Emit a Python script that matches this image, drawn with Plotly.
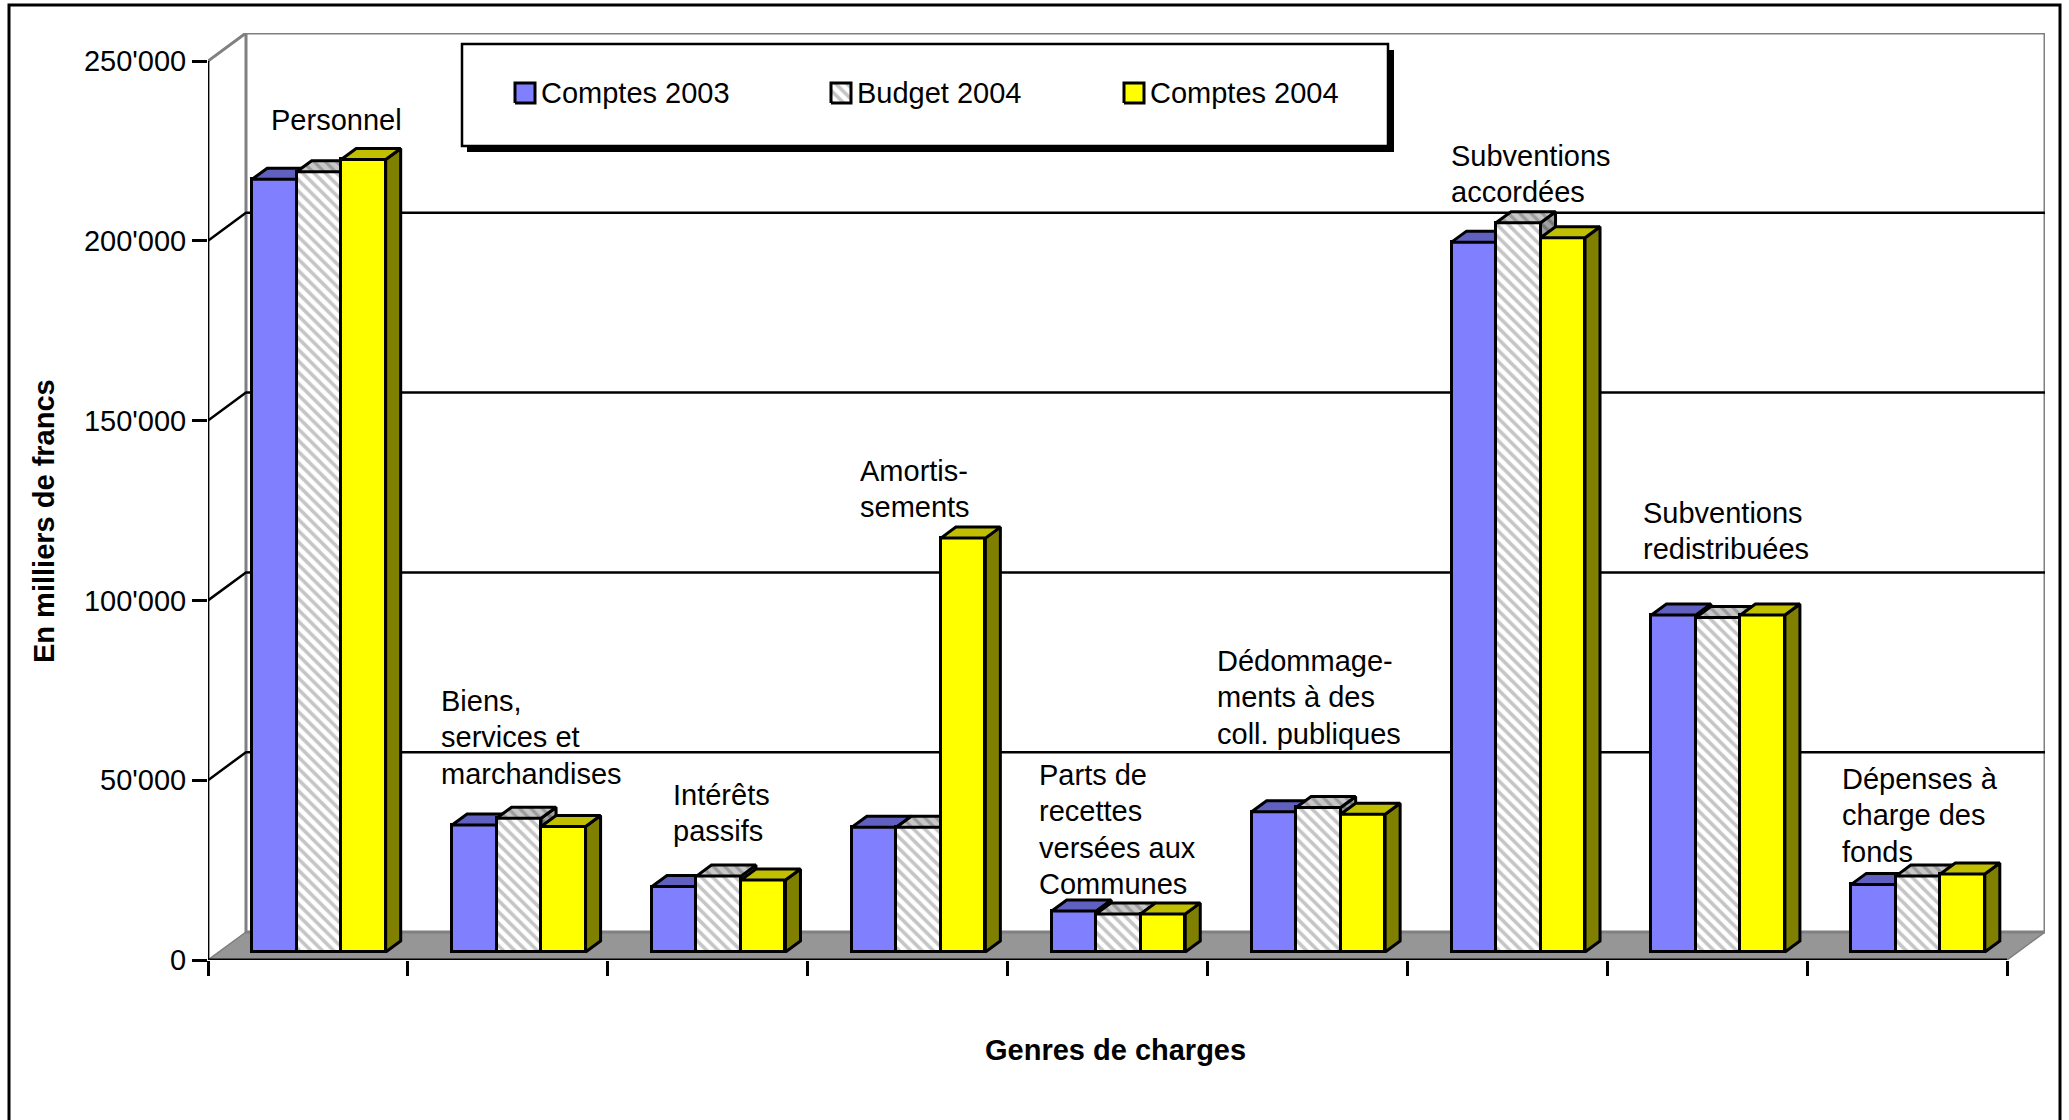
import plotly.graph_objects as go

# ---- data (thousands of francs) ----
SERIES = ["Comptes 2003", "Budget 2004", "Comptes 2004"]
comptes_2003 = [214900, 35300, 18200, 34700, 11400, 39000, 197400, 93700, 18800]
budget_2004 = [217000, 37200, 21100, 34700, 10600, 40200, 202800, 93000, 21100]
comptes_2004 = [220400, 34900, 20000, 115100, 10600, 38300, 198600, 93700, 21700]
category_lines = [
    ["Personnel"],
    ["Biens,", "services et", "marchandises"],
    ["Intérêts", "passifs"],
    ["Amortis-", "sements"],
    ["Parts de", "recettes", "versées aux", "Communes"],
    ["Dédommage-", "ments à des", "coll. publiques"],
    ["Subventions", "accordées"],
    ["Subventions", "redistribuées"],
    ["Dépenses à", "charge des", "fonds"],
]
y_tick_vals = [0, 50000, 100000, 150000, 200000, 250000]
y_tick_text = ["0", "50'000", "100'000", "150'000", "200'000", "250'000"]
y_title = "En milliers de francs"
x_title = "Genres de charges"

# ---- layout geometry ----
W, H = 2069, 1120
X0, X_BACK, Y0, Y_TOP = 208, 2045, 960, 33   # plot box, pixels
PX_X = 1799 / 9           # pixels per category
PX_Y = 899 / 250000       # pixels per franc-thousand
XMAX = (X_BACK - X0) / PX_X
YMAX = (Y0 - Y_TOP) / PX_Y
NCAT = len(comptes_2003)
WALL_DX, WALL_DY = 38 / PX_X, 28 / PX_Y
BAR_DX, BAR_DY = 15 / PX_X, 11 / PX_Y
BAR_W = 44.5 / PX_X
BAR_SHIFT = 11 / PX_X
BASE = 8 / PX_Y

def dx(px): return (px - X0) / PX_X
def dy(py): return (Y0 - py) / PX_Y
def pfx(px): return (px - X0) / (X_BACK - X0)
def pfy(py): return (Y0 - py) / (Y0 - Y_TOP)

FONT = "Liberation Sans"
FS = 29
BLACK = "#000000"
WALLC = "#808080"
EDGE = 3
HATCH = dict(shape="\\", fgcolor="#8c8c8c", bgcolor="#ffffff", size=8, solidity=0.45)

STYLES = [
    dict(front="#8080FF", top="#6060C0", side="#404080", pat=None, tp=None, sp=None),
    dict(front="#FFFFFF", top="#C0C0C0", side="#808080", pat=HATCH,
         tp=dict(shape="\\", fgcolor="#707070", bgcolor="#C8C8C8", size=8, solidity=0.4),
         sp=dict(shape="\\", fgcolor="#505050", bgcolor="#A0A0A0", size=8, solidity=0.4)),
    dict(front="#FFFF00", top="#C0C000", side="#808000", pat=None, tp=None, sp=None),
]
VALUES = [comptes_2003, budget_2004, comptes_2004]

fig = go.Figure()

def poly(xs, ys, fill, xa="x", ya="y", lc=BLACK, lw=EDGE, pattern=None, name=None):
    t = go.Scatter(x=xs, y=ys, mode="lines", fill="toself", fillcolor=fill,
                   line=dict(color=lc, width=lw), hoverinfo="skip", showlegend=False,
                   xaxis=xa, yaxis=ya, name=name, cliponaxis=False)
    if pattern:
        t.fillpattern = pattern
    fig.add_trace(t)

def line(xs, ys, color=BLACK, w=2.5):
    fig.add_trace(go.Scatter(x=xs, y=ys, mode="lines", line=dict(color=color, width=w),
                             hoverinfo="skip", showlegend=False, cliponaxis=False))

# floor
poly([0, NCAT, NCAT + WALL_DX, WALL_DX, 0], [0, 0, WALL_DY, WALL_DY, 0], "#969696", lc="#969696", lw=1)
# back wall
line([0, WALL_DX, WALL_DX, XMAX, XMAX, NCAT + WALL_DX, WALL_DX], [250000, YMAX, WALL_DY, WALL_DY, YMAX, YMAX, YMAX], WALLC, 3)
line([XMAX, NCAT], [WALL_DY, 0], WALLC, 1.5)
line([0, WALL_DX], [0, WALL_DY], WALLC, 1.5)
# gridlines on the side and back walls
for v in y_tick_vals[1:-1]:
    line([0, WALL_DX, XMAX], [v, v + WALL_DY, v + WALL_DY], BLACK, 2.5)
# axis lines
line([0, 0], [0, 250000], BLACK, 2.8)
line([0, NCAT], [0, 0], BLACK, 2.8)

# bars: each series has its own overlaid axes pair so the faces stack correctly
for s, (name, vals, st) in enumerate(zip(SERIES, VALUES, STYLES)):
    xa = f"x{s + 2}"
    ya = f"y{s + 2}"
    xs = [i + 0.5 + BAR_SHIFT + (s - 1) * BAR_W for i in range(NCAT)]
    marker = dict(color=st["front"], line=dict(color=BLACK, width=EDGE))
    if st["pat"]:
        marker["pattern"] = st["pat"]
    fig.add_trace(go.Bar(x=xs, y=vals, base=BASE, width=BAR_W, marker=marker, name=name,
                         showlegend=False, xaxis=xa, yaxis=ya))
    for xc, v in zip(xs, vals):
        l, r, t = xc - BAR_W / 2, xc + BAR_W / 2, BASE + v
        poly([r, r + BAR_DX, r + BAR_DX, r, r], [BASE, BASE + BAR_DY, t + BAR_DY, t, BASE],
             st["side"], xa, ya, pattern=st["sp"])
        poly([l, r, r + BAR_DX, l + BAR_DX, l], [t, t, t + BAR_DY, t + BAR_DY, t],
             st["top"], xa, ya, pattern=st["tp"])

# legend swatches
sw_x = [515, 831, 1124]
txt_x = [540, 856, 1149]
for s, st in enumerate(STYLES):
    x0, x1 = dx(sw_x[s]), dx(sw_x[s] + 20)
    y0, y1 = dy(103), dy(83)
    poly([x0, x1, x1, x0, x0], [y0, y0, y1, y1, y0], st["front"], "x4", "y4", pattern=st["pat"], name=SERIES[s])

annotations = []
for s, name in enumerate(SERIES):
    annotations.append(dict(x=pfx(txt_x[s]), y=pfy(93), xref="paper", yref="paper", text=name,
                            showarrow=False, xanchor="left", yanchor="middle", borderpad=0,
                            font=dict(family=FONT, size=FS, color=BLACK)))

# category labels, first-line position in pixels
label_left = [270, 440, 672, 859, 1038, 1216, 1450, 1642, 1841]
label_first_y = [120, 701, 795, 471, 775, 661, 156, 513, 779]
LINE_H = 36.3
for lines, lx, ly in zip(category_lines, label_left, label_first_y):
    for k, txt in enumerate(lines):
        annotations.append(dict(x=pfx(lx), y=pfy(ly + k * LINE_H), xref="paper", yref="paper", text=txt,
                                showarrow=False, xanchor="left", yanchor="middle", borderpad=0,
                                font=dict(family=FONT, size=FS, color=BLACK)))

annotations.append(dict(x=pfx(1115), y=pfy(1050), xref="paper", yref="paper", text=f"<b>{x_title}</b>",
                        xanchor="center", yanchor="middle",
                        showarrow=False, font=dict(family=FONT, size=FS, color=BLACK)))
annotations.append(dict(x=pfx(44), y=pfy(521), xref="paper", yref="paper", text=f"<b>{y_title}</b>",
                        xanchor="center", yanchor="middle",
                        textangle=-90, showarrow=False, font=dict(family=FONT, size=FS, color=BLACK)))

shapes = [
    # outer frame
    dict(type="rect", xref="paper", yref="paper", x0=pfx(9), x1=pfx(2060), y0=pfy(5), y1=pfy(1140),
         line=dict(color=BLACK, width=3), layer="below"),
    # legend box shadow and box
    dict(type="rect", xref="paper", yref="paper", x0=pfx(467), x1=pfx(1394), y0=pfy(50), y1=pfy(152),
         fillcolor=BLACK, line=dict(width=0), layer="below"),
    dict(type="rect", xref="paper", yref="paper", x0=pfx(462), x1=pfx(1388), y0=pfy(44), y1=pfy(146),
         fillcolor="#FFFFFF", line=dict(color=BLACK, width=2.5), layer="below"),
]

overlay_axes = {}
for n in (2, 3, 4):
    overlay_axes[f"xaxis{n}"] = dict(range=[0, XMAX], overlaying="x", visible=False)
    overlay_axes[f"yaxis{n}"] = dict(range=[0, YMAX], overlaying="y", visible=False)

fig.update_layout(
    width=W, height=H, autosize=False,
    margin=dict(l=X0, r=W - X_BACK, t=Y_TOP, b=H - Y0, pad=0),
    paper_bgcolor="#FFFFFF", plot_bgcolor="#FFFFFF",
    showlegend=False, barmode="overlay", bargap=0,
    font=dict(family=FONT, size=FS, color=BLACK),
    annotations=annotations, shapes=shapes,
    xaxis=dict(range=[0, XMAX], tickmode="array", tickvals=list(range(NCAT + 1)), showticklabels=False,
               ticks="outside", ticklen=15, tickwidth=2.8, tickcolor=BLACK, showgrid=False,
               zeroline=False, showline=False),
    yaxis=dict(range=[0, YMAX], tickmode="array", tickvals=y_tick_vals, ticktext=y_tick_text,
               ticks="outside", ticklen=15, tickwidth=2.8, tickcolor=BLACK, showgrid=False,
               zeroline=False, showline=False, tickfont=dict(family=FONT, size=FS, color=BLACK)),
    **overlay_axes,
)

fig.write_html("out.html", config=dict(displayModeBar=False),
               post_script="document.body.style.margin='0';document.documentElement.style.overflow='hidden';")
